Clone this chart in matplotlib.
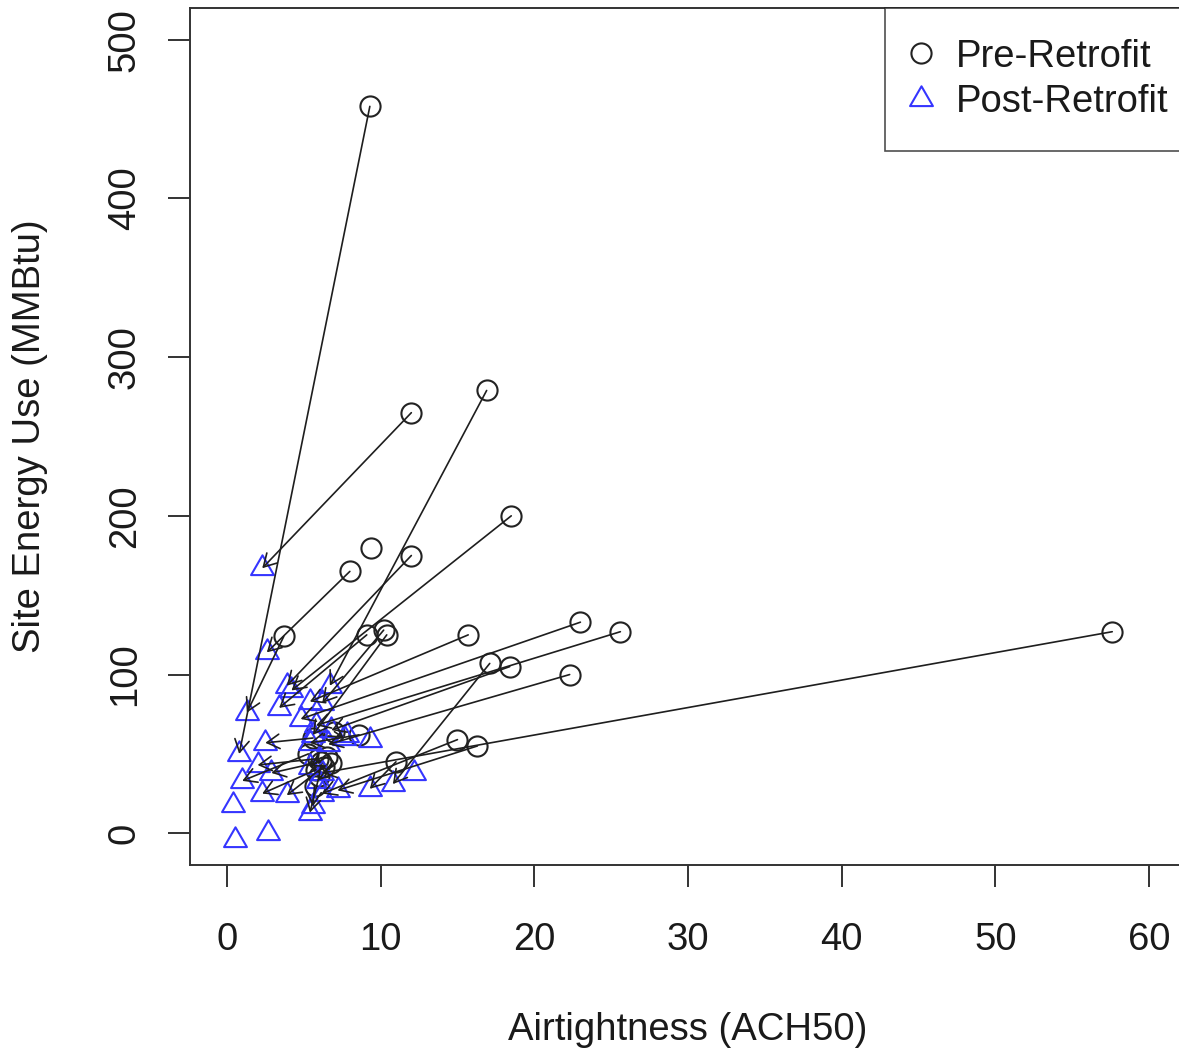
import numpy as np
import matplotlib
matplotlib.use("Agg")
import matplotlib.pyplot as plt
from matplotlib.patches import ArrowStyle
from matplotlib.path import Path

plt.rcParams['font.family'] = ['Liberation Sans', 'DejaVu Sans']

nan = np.nan

# Each house: airtightness (ACH50) and site energy use (MMBtu) before and after retrofit
pre_ach = [9.3, 12.0, 16.9, 18.5, 9.4, 8.0, 12.0, 3.7, 9.1, 10.2, 10.4, 15.7,
           23.0, 25.6, 57.6, 17.1, 18.4, 22.3, 8.6, 15.0, 16.3, 11.0,
           5.6, 5.9, 6.1, 5.3, 6.3, 5.8, 6.5, 6.8, 6.0, 5.7, 7.0,
           nan, nan, nan, nan, nan, nan]
pre_energy = [458, 265, 279, 200, 180, 165, 175, 124, 125, 128, 125, 125,
              133, 127, 127, 107, 105, 100, 62, 59, 55, 45,
              60, 47, 45, 50, 42, 40, 48, 44, 36, 30, 64,
              nan, nan, nan, nan, nan, nan]
post_ach = [0.8, 2.3, 6.7, 4.2, nan, 2.6, 3.9, 1.3, 3.4, 6.2, 5.6, 5.4,
            4.8, 5.8, 6.2, 10.8, 6.8, 6.6, 5.4, 6.2, 7.2, 9.3,
            2.5, 2.0, 2.9, 1.0, 3.9, 2.3, 5.4, 5.9, 5.4, 5.6, 7.6,
            0.4, 0.5, 2.7, 9.3, 12.2, 7.8]
post_energy = [50, 167, 93, 90, nan, 114, 93, 76, 79, 82, 62, 83,
               72, 68, 38, 31, 65, 56, 57, 25, 27, 28,
               57, 43, 38, 33, 24, 25, 42, 33, 13, 17, 60,
               18, -4, 0, 59, 38, 62]

x_ticks = [0, 10, 20, 30, 40, 50, 60]
y_ticks = [0, 100, 200, 300, 400, 500]

FS = 27.5
BLUE = '#3535ff'

# equilateral open triangle, like R's pch = 2
tri = Path([(-1, -0.577), (1, -0.577), (0, 1.155), (-1, -0.577)],
           [Path.MOVETO, Path.LINETO, Path.LINETO, Path.CLOSEPOLY])

fig = plt.figure(figsize=(11.79, 10.52), dpi=100)
ax = fig.add_axes([190 / 1179, 187 / 1052, 996 / 1179, 857 / 1052])

ax.plot(pre_ach, pre_energy, linestyle='none', marker='o', ms=14.5,
        mfc='none', mec='#222222', mew=1.5, label='Pre-Retrofit')
ax.plot(post_ach, post_energy, linestyle='none', marker=tri, ms=19,
        mfc='none', mec=BLUE, mew=1.5, label='Post-Retrofit')

head = ArrowStyle('->', head_length=0.45, head_width=0.26)
for x0, y0, x1, y1 in zip(pre_ach, pre_energy, post_ach, post_energy):
    if np.isnan([x0, y0, x1, y1]).any():
        continue
    ax.annotate('', xy=(x1, y1), xytext=(x0, y0),
                arrowprops=dict(arrowstyle=head, color='#1e1e1e', lw=1.2,
                                shrinkA=0, shrinkB=0, mutation_scale=20))

ax.set_xlim(-2.4, 62.4)
ax.set_ylim(-20, 520)
ax.set_xticks(x_ticks)
ax.set_yticks(y_ticks)
ax.tick_params(axis='both', direction='out', length=16, width=1.4,
               color='#333333', labelsize=FS, labelcolor='#1a1a1a')
ax.tick_params(axis='x', pad=25)
ax.tick_params(axis='y', pad=18, labelrotation=90)
for lab in ax.get_yticklabels():
    lab.set_va('center')

for s in ax.spines.values():
    s.set_linewidth(1.4)
    s.set_color('#333333')

ax.set_xlabel('Airtightness (ACH50)', fontsize=FS, color='#1a1a1a', va='center')
ax.xaxis.set_label_coords(0.5, -0.1925)
ax.set_ylabel('Site Energy Use (MMBtu)', fontsize=FS, color='#1a1a1a', va='center')
ax.yaxis.set_label_coords(-0.1606, 0.5)

leg = ax.legend(loc='upper left', bbox_to_anchor=((885 - 190) / 996, 1.0),
                borderaxespad=0, fontsize=FS, frameon=True, fancybox=False,
                handlelength=0.3, handletextpad=0.75, borderpad=0.8,
                labelspacing=0.25)
leg.get_frame().set_edgecolor('#222222')
leg.get_frame().set_linewidth(1.2)
for t in leg.get_texts():
    t.set_color('#1a1a1a')

fig.savefig('out.png', dpi=100)
